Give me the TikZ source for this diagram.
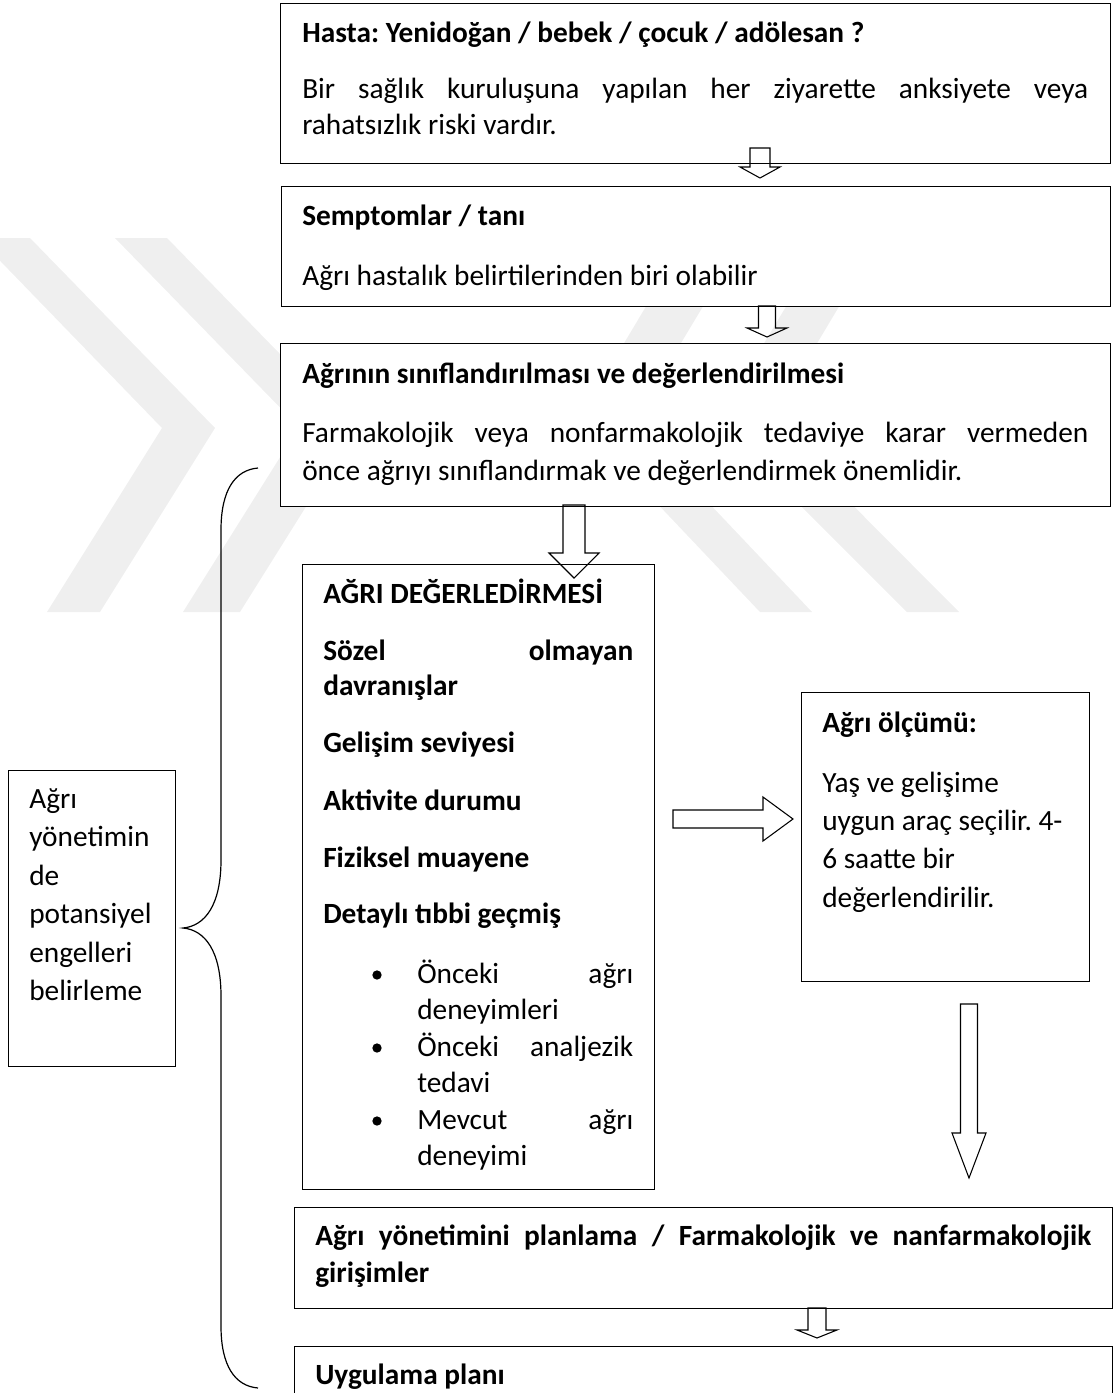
\documentclass[tikz,border=0pt]{standalone}
\usepackage{fontspec}
\setmainfont{Carlito}
\usetikzlibrary{calc}
\frenchspacing
\definecolor{wm}{RGB}{239,239,239}
\newcommand\jl[2]{\makebox[\dimexpr #1pt*3/4\relax][s]{#2}}
\newcommand\dnarrow[5]{\draw[blk] ($(#1)+(-#3,-#2)$) -- ($(#1)+(#3,-#2)$) -- ($(#1)+(#3,-#5)$) -- ($(#1)+(#4,-#5)$) -- (#1) -- ($(#1)+(-#4,-#5)$) -- ($(#1)+(-#3,-#5)$) -- cycle;}
\newcommand\rtarrow[5]{\draw[blk] ($(#1)+(-#2,-#3)$) -- ($(#1)+(-#5,-#3)$) -- ($(#1)+(-#5,-#4)$) -- (#1) -- ($(#1)+(-#5,#4)$) -- ($(#1)+(-#5,#3)$) -- ($(#1)+(-#2,#3)$) -- cycle;}
\begin{document}
\begin{tikzpicture}[x=0.75pt,y=-0.75pt,
  box/.style={draw, line width=1.1pt, fill=white, inner sep=0pt, anchor=north west},
  txt/.style={anchor=base west, inner sep=0pt, font=\fontsize{22}{27}\selectfont},
  bx/.style={anchor=base west, inner sep=0pt, font=\fontsize{22}{27}\selectfont\bfseries},
  blk/.style={draw, line width=0.8pt, line join=miter},
  brace/.style={draw, line width=0.9pt},
  wmark/.style={fill=wm, draw=none}]
\useasboundingbox (0,0) rectangle (1117,1393);
% watermark
\begin{scope}
\clip (0,0) rectangle (1117,1393);
\fill[wmark] (-22,238) -- (30,238) -- (215,428) -- (100,612) -- (47,612) -- (162,428) -- cycle;
\fill[wmark] (115,238) -- (167,238) -- (354,430) -- (240,612) -- (183,612) -- (299,427) -- cycle;
\fill[wmark] (959,612) -- (907,612) -- (717,422) -- (827,238) -- (880,238) -- (770,422) -- cycle;
\fill[wmark] (812,612) -- (760,612) -- (578,420) -- (687,238) -- (744,238) -- (633,423) -- cycle;
\end{scope}
% boxes
\node[box, minimum width=622.5pt, minimum height=120pt] (b1) at (280,3) {};
\node[box, minimum width=621.75pt, minimum height=90pt] (b2) at (281,186) {};
\node[box, minimum width=622.5pt, minimum height=122.25pt] (b3) at (280,343) {};
\node[box, minimum width=264pt, minimum height=468.75pt] (b4) at (302,564) {};
\node[box, minimum width=216pt, minimum height=216.75pt] (b5) at (801,692) {};
\node[box, minimum width=125.25pt, minimum height=222pt] (b0) at (8,770) {};
\node[box, minimum width=613.5pt, minimum height=75.75pt] (b6) at (294,1207) {};
\node[box, minimum width=613.5pt, minimum height=75pt] (b7) at (294,1346) {};
% texts box 1
\node[bx] (t11) at (302,42) {Hasta: Yenidoğan / bebek / çocuk / adölesan ?};
\node[txt] (t12) at (302,98) {\jl{786}{Bir sağlık kuruluşuna yapılan her ziyarette anksiyete veya}};
\node[txt] (t13) at (302,134) {rahatsızlık riski vardır.};
% box 2
\node[bx] (t21) at (302,225) {Semptomlar / tanı};
\node[txt] (t22) at (302,285) {Ağrı hastalık belirtilerinden biri olabilir};
% box 3
\node[bx] (t31) at (302,383) {Ağrının sınıflandırılması ve değerlendirilmesi};
\node[txt] (t32) at (302,442) {\jl{786}{Farmakolojik veya nonfarmakolojik tedaviye karar vermeden}};
\node[txt] (t33) at (302,480) {önce ağrıyı sınıflandırmak ve değerlendirmek önemlidir.};
% box 4
\node[bx] (t41) at (323,603) {AĞRI DEĞERLEDİRMESİ};
\node[bx] (t42) at (323,660) {\jl{310}{Sözel olmayan}};
\node[bx] (t43) at (323,695) {davranışlar};
\node[bx] (t44) at (323,752) {Gelişim seviyesi};
\node[bx] (t45) at (323,810) {Aktivite durumu};
\node[bx] (t46) at (323,867) {Fiziksel muayene};
\node[bx] (t47) at (323,923) {Detaylı tıbbi geçmiş};
\fill (377,975) circle[radius=3.5pt];
\fill (377,1048) circle[radius=3.5pt];
\fill (377,1121) circle[radius=3.5pt];
\node[txt] (t48) at (417,983) {\jl{216}{Önceki ağrı}};
\node[txt] (t49) at (417,1019) {deneyimleri};
\node[txt] (t410) at (417,1056) {\jl{216}{Önceki analjezik}};
\node[txt] (t411) at (417,1092) {tedavi};
\node[txt] (t412) at (417,1129) {\jl{216}{Mevcut ağrı}};
\node[txt] (t413) at (417,1165) {deneyimi};
% box 5
\node[bx] (t51) at (822,732) {Ağrı ölçümü:};
\node[txt] (t52) at (822,792) {Yaş ve gelişime};
\node[txt] (t53) at (822,830) {uygun araç seçilir. 4-};
\node[txt] (t54) at (822,868) {6 saatte bir};
\node[txt] (t55) at (822,907) {değerlendirilir.};
% box 0
\node[txt] (t01) at (29,808) {Ağrı};
\node[txt] (t02) at (29,846.5) {yönetimin};
\node[txt] (t03) at (29,885) {de};
\node[txt] (t04) at (29,923.5) {potansiyel};
\node[txt] (t05) at (29,962) {engelleri};
\node[txt] (t06) at (29,1000.5) {belirleme};
% box 6,7
\node[bx] (t61) at (315,1245) {\jl{776}{Ağrı yönetimini planlama / Farmakolojik ve nanfarmakolojik}};
\node[bx] (t62) at (315,1282) {girişimler};
\node[bx] (t71) at (315,1384) {Uygulama planı};
% arrows
\coordinate (a1) at ($(b2.north west)+(479,-8)$);
\coordinate (a2) at ($(b3.north west)+(487,-6)$);
\coordinate (a3) at ($(b4.north west)+(272,14)$);
\coordinate (a4) at ($(b5.north west)+(-8,127)$);
\coordinate (a5) at ($(b6.north west)+(675,-29)$);
\coordinate (a6) at ($(b7.north west)+(523,-8)$);
\dnarrow{a1}{30}{10}{20}{11}
\dnarrow{a2}{31}{8.5}{20}{9}
\dnarrow{a3}{73}{11}{25}{25}
\rtarrow{a4}{120}{9}{22}{30}
\dnarrow{a5}{174}{8.5}{17}{45}
\dnarrow{a6}{30}{9}{20}{8}
% brace
\coordinate (brT) at (258,468);
\coordinate (brM) at (183,928);
\coordinate (brB) at (258,1388);
\draw[brace] (brT) .. controls (235,470) and (221,490) .. (221,530) -- (221,860) .. controls (221,905) and (205,926) .. (brM) .. controls (205,930) and (221,951) .. (221,996) -- (221,1326) .. controls (221,1366) and (235,1386) .. (brB);
\end{tikzpicture}
\end{document}
